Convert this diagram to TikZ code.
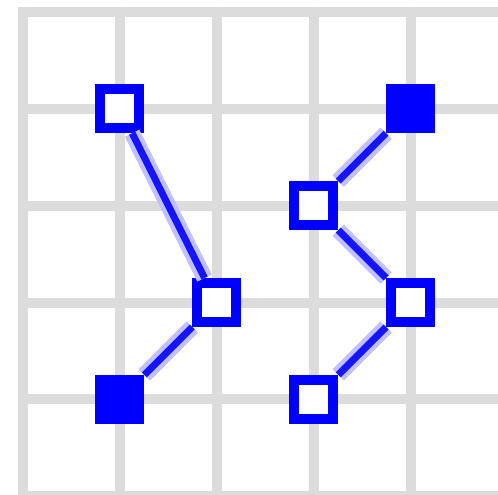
\documentclass[tikz,border=0pt]{standalone}
\definecolor{gridgray}{RGB}{220,220,220}
\definecolor{corecol}{RGB}{20,20,255}
\definecolor{halocol}{RGB}{192,192,255}
\tikzset{
  gridline/.style={draw=gridgray, line width=10pt},
  hollowsq/.style={draw=blue, fill=white, line width=10pt, minimum size=39pt, inner sep=0pt, shape=rectangle},
  filledsq/.style={draw=blue, fill=blue, line width=10pt, minimum size=39pt, inner sep=0pt, shape=rectangle},
  halo/.style={draw=halocol, line width=16pt},
  core/.style={draw=corecol, line width=7pt}
}
\begin{document}
\begin{tikzpicture}[x=1pt, y=-1pt]
\useasboundingbox (0,0) rectangle (498,495);
\begin{scope}
\clip (0,0) rectangle (498,495);
\foreach \i in {0,...,4} {
  \draw[gridline] (23+96.9*\i, 6.8) -- (23+96.9*\i, 500);
}
\foreach \j in {0,...,5} {
  \draw[gridline] (18, 11.8+96.9*\j) -- (505, 11.8+96.9*\j);
}
\end{scope}
\node[hollowsq] (A) at (119.9,108.7) {};
\node[hollowsq] (B) at (216.8,302.5) {};
\node[filledsq] (C) at (119.9,399.4) {};
\node[filledsq] (D) at (410.6,108.7) {};
\node[hollowsq] (E) at (313.7,205.6) {};
\node[hollowsq] (F) at (410.6,302.5) {};
\node[hollowsq] (G) at (313.7,399.4) {};
\foreach \a/\b in {A/B, B/C, D/E, E/F, F/G} {
  \draw[halo] (\a) -- (\b);
  \draw[core] (\a) -- (\b);
}
\end{tikzpicture}
\end{document}
